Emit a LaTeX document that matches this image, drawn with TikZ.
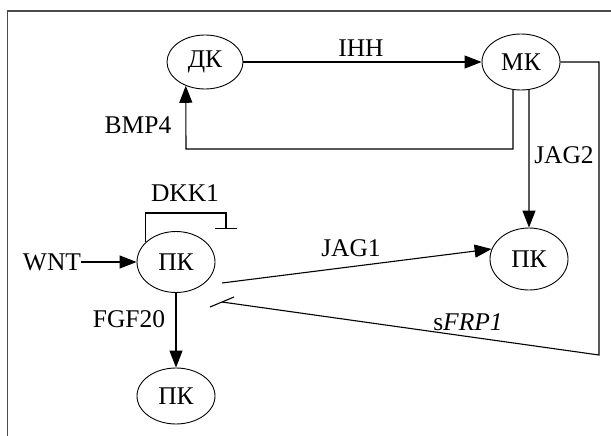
\documentclass[tikz,border=0pt]{standalone}
\usepackage{fontspec}
\setmainfont{Liberation Serif}
\usetikzlibrary{shapes.geometric,arrows.meta}
\begin{document}
\begin{tikzpicture}[x=1pt,y=-1pt,
  cell/.style={ellipse,draw,line width=0.9pt,inner sep=0pt,minimum width=78pt,minimum height=57pt,font=\fontsize{25.5}{30}\selectfont},
  lbl/.style={inner sep=0pt,font=\fontsize{25.5}{30}\selectfont},
  conn/.style={line width=1.1pt},
  arr/.style={conn,-{Triangle[length=17pt,width=13pt]}},
  inh/.style={conn,-{Bar[width=22pt]}}]
\useasboundingbox (0,0) rectangle (611,436);
\draw[line width=1.4pt,draw=black!70] (7.5,436) -- (7.5,11) -- (611,11);
% cells
\node[cell,minimum width=76pt,minimum height=54pt] (DK) at (205,62) {ДК};
\node[cell,minimum height=56pt] (MK) at (521,62) {МК};
\node[cell,minimum height=61pt] (PK1) at (176,262) {ПК};
\node[cell,minimum height=62pt] (PK2) at (529,259) {ПК};
\node[cell,minimum height=56pt] (PK3) at (176,396) {ПК};
% labels
\node[lbl] (IHH) at (361,48) {IHH};
\node[lbl] (BMP) at (138,125) {BMP4};
\node[lbl] (JAGtwo) at (564,155) {JAG2};
\node[lbl] (DKK) at (185,193) {DKK1};
\node[lbl] (JAGone) at (351,248) {JAG1};
\node[lbl] (SFRP) at (468,322) {s\textit{FRP1}};
\node[lbl] (FGF) at (129,319) {FGF20};
\node[lbl] (WNT) at (52,262) {WNT};
% connectors
\draw[arr] (DK) -- (MK);
\coordinate (b1) at (186,149);
\draw[arr] (MK.-106) |- (b1) -- (DK.-129);
\draw[arr] (MK.-74) -- (PK2);
\coordinate (r1) at (599,355);
\coordinate (sf) at (222,302);
\draw[conn] (MK.east) -| (r1) -- (sf);
\draw[conn] (sf) ++(-12,5) -- ++(24,-10);
\coordinate (j1) at (222,283);
\draw[arr] (j1) -- (PK2.165);
\draw[arr] (WNT) -- (PK1);
\draw[arr] (PK1) -- (PK3);
\coordinate (d1) at (226,213);
\draw[inh] (PK1.147) |- (d1) -- ++(0,16);
\end{tikzpicture}
\end{document}
